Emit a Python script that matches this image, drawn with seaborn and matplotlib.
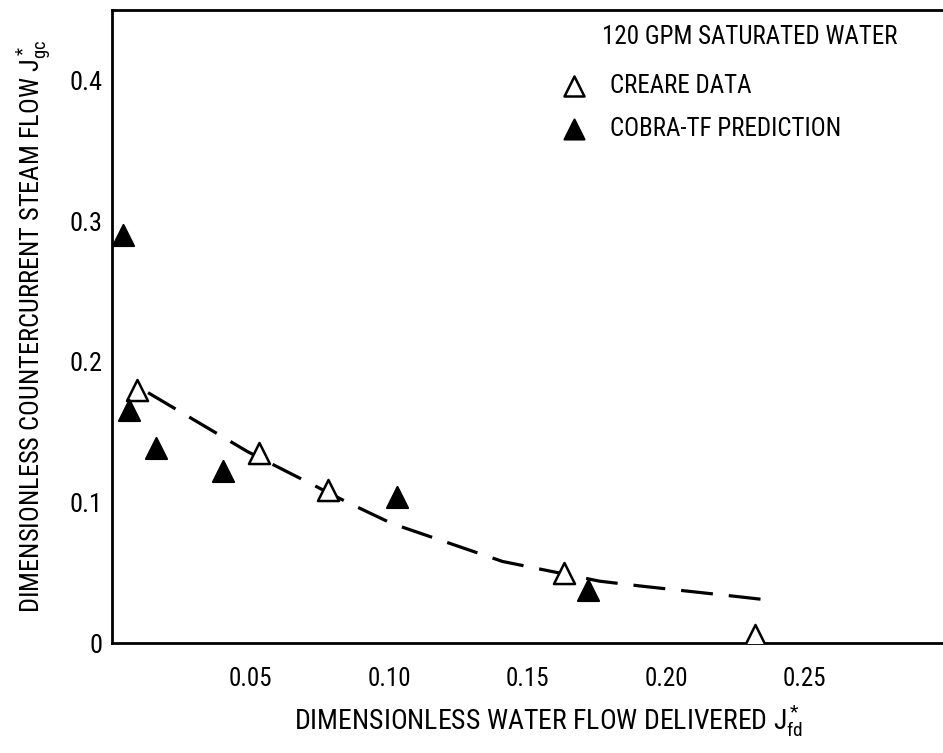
import matplotlib
matplotlib.use("Agg")
import matplotlib.pyplot as plt
import seaborn as sns
import pandas as pd
from matplotlib import font_manager

# ---- data ----
creare_x = [0.009, 0.053, 0.078, 0.163, 0.232]
creare_y = [0.180, 0.135, 0.109, 0.050, 0.006]
cobra_x = [0.004, 0.006, 0.016, 0.040, 0.103, 0.172]
cobra_y = [0.290, 0.166, 0.139, 0.122, 0.104, 0.038]
curve_x = [0.013, 0.049, 0.085, 0.101, 0.141, 0.176, 0.191, 0.226, 0.235]
curve_y = [0.178, 0.136, 0.100, 0.085, 0.058, 0.044, 0.0405, 0.033, 0.031]
xticks = [0.05, 0.10, 0.15, 0.20, 0.25]
xticklabels = ["0.05", "0.10", "0.15", "0.20", "0.25"]
yticks = [0, 0.1, 0.2, 0.3, 0.4]
yticklabels = ["0", "0.1", "0.2", "0.3", "0.4"]
legend_title = "120 GPM SATURATED WATER"
series_names = ["CREARE DATA", "COBRA-TF PREDICTION"]

sns.set_theme(style="white")
avail = {f.name for f in font_manager.fontManager.ttflist}
fam = "DejaVu Sans"
for cand in ["Liberation Sans Narrow", "DejaVu Sans Condensed", "Roboto Condensed"]:
    if cand in avail:
        fam = cand
        break
plt.rcParams["font.family"] = [fam, "DejaVu Sans"]
plt.rcParams["text.color"] = "black"
plt.rcParams["axes.labelcolor"] = "black"
plt.rcParams["mathtext.fontset"] = "custom"
plt.rcParams["mathtext.rm"] = fam
plt.rcParams["mathtext.it"] = fam
plt.rcParams["mathtext.default"] = "regular"

fig = plt.figure(figsize=(9.43, 7.53), dpi=100)
ax = fig.add_axes([0.1188, 0.146, 0.8812, 0.8407])

df_c = pd.DataFrame({"x": creare_x, "y": creare_y})
df_p = pd.DataFrame({"x": cobra_x, "y": cobra_y})
df_l = pd.DataFrame({"x": curve_x, "y": curve_y})

sns.lineplot(data=df_l, x="x", y="y", ax=ax, color="black", lw=2.3,
             dashes=False, sort=False, zorder=2)
ax.lines[-1].set_dashes([10, 5])
sns.scatterplot(data=df_c, x="x", y="y", ax=ax, marker="^", s=230,
                facecolor="white", edgecolor="black", linewidth=1.8,
                zorder=3, label=series_names[0])
sns.scatterplot(data=df_p, x="x", y="y", ax=ax, marker="^", s=230,
                facecolor="black", edgecolor="black", linewidth=1.5,
                zorder=3, label=series_names[1])

ax.set_xlim(0, 0.3)
ax.set_ylim(0, 0.45)
ax.set_xticks(xticks)
ax.set_xticklabels(xticklabels)
ax.set_yticks(yticks)
ax.set_yticklabels(yticklabels)
ax.tick_params(axis="both", direction="in", length=20, width=1.5,
               colors="black")
ax.tick_params(axis="x", pad=17, labelsize=18)
ax.tick_params(axis="y", pad=7, labelsize=19)
for s in ["left", "bottom", "top"]:
    ax.spines[s].set_color("black")
    ax.spines[s].set_linewidth(2)
ax.spines["right"].set_visible(False)

ax.set_xlabel(r"DIMENSIONLESS WATER FLOW DELIVERED $J^*_{fd}$", fontsize=20,
              color="black")
ax.xaxis.set_label_coords(0.526, -0.122, transform=ax.transAxes)
ax.xaxis.label.set_va("center")
ax.set_ylabel(r"DIMENSIONLESS COUNTERCURRENT STEAM FLOW $J^*_{gc}$",
              fontsize=19, labelpad=12, color="black")

ax.text(0.590, 0.957, legend_title, transform=ax.transAxes, fontsize=18,
        ha="left", va="center", color="black")
leg = ax.legend(loc="upper left", bbox_to_anchor=(0.533, 0.899), frameon=False,
                fontsize=18, borderaxespad=0, borderpad=0, handlelength=1.5,
                handletextpad=0.7, labelspacing=0.75, markerscale=0.95)
for t in leg.get_texts():
    t.set_color("black")

fig.savefig("out.png", dpi=100)
